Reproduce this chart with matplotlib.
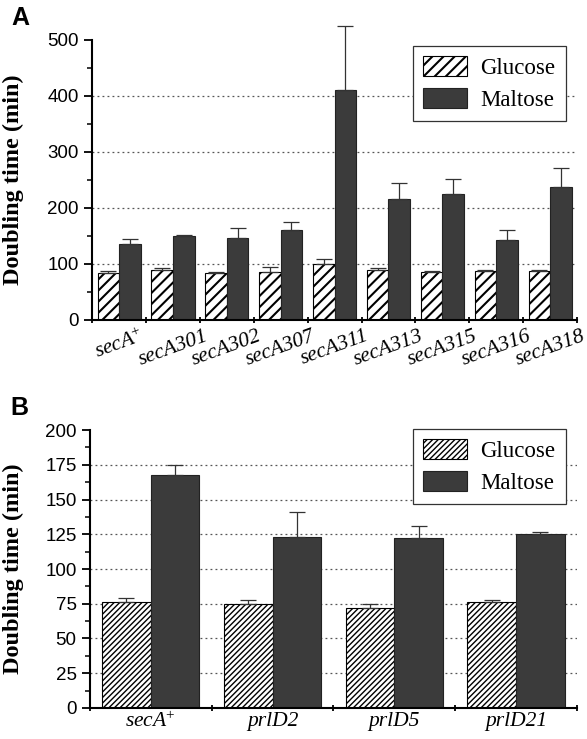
import numpy as np
import matplotlib.pyplot as plt
from matplotlib.ticker import MultipleLocator, FixedLocator, NullFormatter
from matplotlib.patches import Patch

plt.rcParams["mathtext.fontset"] = "custom"
plt.rcParams["mathtext.rm"] = "Liberation Serif"
plt.rcParams["mathtext.it"] = "Liberation Serif:italic"

# %%
# Panel A data
strains_a = ["secA$^{+}$", "secA301", "secA302", "secA307", "secA311",
             "secA313", "secA315", "secA316", "secA318"]
glucose_a = [83, 90, 83, 85, 100, 90, 85, 87, 87]
glucose_a_err = [5, 2, 2, 9, 8, 2, 2, 2, 2]
maltose_a = [135, 150, 146, 161, 410, 216, 225, 142, 237]
maltose_a_err = [10, 2, 19, 14, 115, 29, 27, 18, 34]

# Panel B data
strains_b = ["secA$^{+}$", "prlD2", "prlD5", "prlD21"]
glucose_b = [76, 75, 72, 76.5]
glucose_b_err = [3, 3, 3, 1.5]
maltose_b = [168, 123, 122, 125]
maltose_b_err = [7, 18, 9, 2]

dark = "#3b3b3b"
serif = "Liberation Serif"
sans = "Liberation Sans"


# %%
def draw_panel(ax, names, glu, glu_err, mal, mal_err, ymax, major, minor,
               rot, hatch, leg_anchor):
    n = len(names)
    x = np.arange(n)
    ax.bar(x - 0.2, glu, width=0.4, color="white", edgecolor="black",
           hatch=hatch, lw=0.8, zorder=2)
    ax.bar(x + 0.2, mal, width=0.4, color=dark, edgecolor="#222222",
           lw=0.8, zorder=2)
    # Only the upper half of the error bars
    ax.errorbar(x - 0.2, glu, yerr=[np.zeros(n), glu_err], fmt="none",
                ecolor="#333333", elinewidth=0.9, capsize=6, capthick=0.9,
                zorder=3, clip_on=False)
    ax.errorbar(x + 0.2, mal, yerr=[np.zeros(n), mal_err], fmt="none",
                ecolor="#333333", elinewidth=0.9, capsize=6, capthick=0.9,
                zorder=3, clip_on=False)
    ax.set_xlim(-0.5, n - 0.5)
    ax.set_ylim(0, ymax)
    # Dotted grid lines
    for g in np.arange(major, ymax, major):
        ax.axhline(g, color="#555555", ls=(0, (1.5, 2.5)), lw=0.9, zorder=1)
    ax.yaxis.set_major_locator(MultipleLocator(major))
    ax.yaxis.set_minor_locator(MultipleLocator(minor))
    ax.xaxis.set_major_locator(FixedLocator(np.arange(n + 1) - 0.5))
    ax.xaxis.set_major_formatter(NullFormatter())
    ax.xaxis.set_minor_locator(FixedLocator(x))
    ax.set_xticklabels(names, minor=True, fontfamily=serif, fontstyle="italic",
                       fontsize=15.5, rotation=rot)
    ax.tick_params(axis="x", which="minor", length=0, pad=5 if rot else 3)
    ax.tick_params(axis="x", which="major", length=5, width=1.3, direction="inout")
    ax.tick_params(axis="y", which="major", length=6, width=1.3, labelsize=13.5)
    ax.tick_params(axis="y", which="minor", length=3.5, width=1.1)
    for lab in ax.get_yticklabels():
        lab.set_fontfamily(sans)
    for s in ["top", "right"]:
        ax.spines[s].set_visible(False)
    for s in ["left", "bottom"]:
        ax.spines[s].set_linewidth(1.5)
    ax.set_ylabel("Doubling time (min)", fontfamily=serif, fontweight="bold",
                  fontsize=17.5)
    handles = [Patch(facecolor="white", edgecolor="black", hatch=hatch, lw=0.8),
               Patch(facecolor=dark, edgecolor="#222222", lw=0.8)]
    leg = ax.legend(handles, ["Glucose", "Maltose"], loc="upper right",
                    bbox_to_anchor=leg_anchor, fancybox=False, framealpha=1,
                    edgecolor="#333333", prop={"family": serif, "size": 16.5},
                    handlelength=1.9, handleheight=0.95, borderpad=0.45,
                    labelspacing=0.4, handletextpad=0.6)
    leg.get_frame().set_linewidth(0.9)
    leg.set_zorder(5)


fig = plt.figure(figsize=(5.87, 7.39), dpi=100)
ax_a = fig.add_axes([0.157, 0.567, 0.826, 0.379])
ax_b = fig.add_axes([0.153, 0.042, 0.830, 0.376])

plt.rcParams["hatch.linewidth"] = 1.5
draw_panel(ax_a, strains_a, glucose_a, glucose_a_err, maltose_a, maltose_a_err,
           500, 100, 50, 20, "///", (1.0, 1.02))
plt.rcParams["hatch.linewidth"] = 1.0
draw_panel(ax_b, strains_b, glucose_b, glucose_b_err, maltose_b, maltose_b_err,
           200, 25, 12.5, 0, "//////", (1.0, 1.045))
ax_a.yaxis.set_label_coords(-0.14, 0.5)
ax_b.yaxis.set_label_coords(-0.135, 0.5)

fig.text(0.02, 0.966, "A", fontfamily=sans, fontweight="bold", fontsize=18)
fig.text(0.017, 0.438, "B", fontfamily=sans, fontweight="bold", fontsize=18)

fig.savefig("out.png", dpi=100)
